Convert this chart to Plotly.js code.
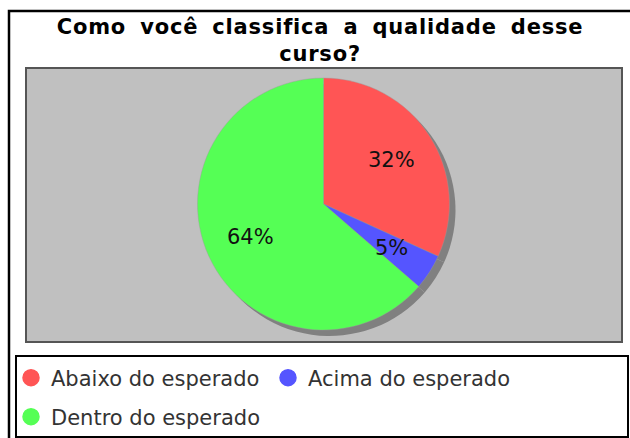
<!DOCTYPE html>
<html>
<head>
<meta charset="utf-8">
<script src="https://cdn.plot.ly/plotly-3.0.1.min.js"></script>
<style>
html,body{margin:0;padding:0;background:#fff;}
#chart{width:630px;height:438px;}
.gtitle{letter-spacing:0.8px;word-spacing:6px;}
</style>
</head>
<body>
<div id="chart"></div>
<script>
// ---- data ----
const labels = ['Abaixo do esperado', 'Acima do esperado', 'Dentro do esperado'];
const values = [7, 1, 14];
const colors = ['#FF5555', '#5555FF', '#55FF55'];
const titleText = 'Como você classifica a qualidade desse<br>curso?';

// ---- layout constants (px) ----
const W = 630, H = 438;
const cx = 323.5, cy = 204, r = 126, shadowOff = 6;
const px = x => x / W;
const py = y => 1 - y / H;

const dom = (ox, oy) => ({
  x: [px(cx - r + ox), px(cx + r + ox)],
  y: [py(cy + r + oy), py(cy - r + oy)]
});

const total = values.reduce((a, b) => a + b, 0);

const shadow = {
  type: 'pie', values: values, labels: labels, sort: false, direction: 'clockwise', rotation: 0,
  domain: dom(shadowOff, shadowOff),
  marker: {colors: values.map(() => '#808080'), line: {width: 0}},
  textinfo: 'none', hoverinfo: 'skip', showlegend: false
};
const pie = {
  type: 'pie', values: values, labels: labels, sort: false, direction: 'clockwise', rotation: 0,
  domain: dom(0, 0),
  marker: {colors: colors, line: {color: '#9a9a9a', width: 0.4}},
  textinfo: 'none', showlegend: false
};

// legend-only traces with circle symbols
const legendTraces = labels.map((l, i) => ({
  type: 'scatter', mode: 'markers', x: [null], y: [null], name: l,
  marker: {color: colors[i], size: 16, symbol: 'circle', line: {color: colors[i], width: 1.5}},
  legend: i < 2 ? 'legend' : 'legend2', hoverinfo: 'skip'
}));

// slice labels at 0.64 r on each slice's mid-angle
const annotations = [];
let cum = 0;
values.forEach((v, i) => {
  const mid = (cum + v / 2) / total * 2 * Math.PI;
  cum += v;
  const x = cx + 0.64 * r * Math.sin(mid);
  const y = cy - 0.64 * r * Math.cos(mid);
  annotations.push({
    xref: 'paper', yref: 'paper', x: px(x), y: py(y), xanchor: 'center', yanchor: 'middle',
    text: Math.round(v / total * 100) + '%', showarrow: false,
    font: {family: 'DejaVu Sans', size: 21, color: '#111'}
  });
});

const legendFont = {family: 'DejaVu Sans', size: 21, color: '#333'};

const layout = {
  width: W, height: H,
  margin: {l: 0, r: 0, t: 0, b: 0},
  paper_bgcolor: '#fff', plot_bgcolor: 'rgba(0,0,0,0)',
  title: {
    text: titleText, x: 0.508, xanchor: 'center', xref: 'paper',
    y: 1 - 34 / H, yref: 'container', yanchor: 'top',
    font: {family: 'DejaVu Sans', size: 21, weight: 'bold', color: '#000'}
  },
  xaxis: {visible: false, range: [0, 1]},
  yaxis: {visible: false, range: [0, 1]},
  showlegend: true,
  legend: {
    orientation: 'h', x: px(11), y: py(378), xanchor: 'left', yanchor: 'middle',
    font: legendFont, bgcolor: 'rgba(0,0,0,0)', entrywidth: 212, itemclick: false
  },
  legend2: {
    orientation: 'h', x: px(11), y: py(417), xanchor: 'left', yanchor: 'middle',
    font: legendFont, bgcolor: 'rgba(0,0,0,0)', itemclick: false
  },
  annotations: annotations,
  shapes: [
    {type: 'rect', xref: 'paper', yref: 'paper', layer: 'below',
     x0: px(9), x1: px(640), y0: py(11), y1: py(450),
     line: {color: '#000', width: 2.5}, fillcolor: '#fff'},
    {type: 'rect', xref: 'paper', yref: 'paper', layer: 'below',
     x0: px(26), x1: px(622), y0: py(68), y1: py(342),
     line: {color: '#555', width: 2}, fillcolor: '#C0C0C0'},
    {type: 'rect', xref: 'paper', yref: 'paper', layer: 'below',
     x0: px(16), x1: px(628), y0: py(356), y1: py(437),
     line: {color: '#000', width: 2}, fillcolor: '#fff'}
  ]
};

Plotly.newPlot('chart', [shadow, pie].concat(legendTraces), layout, {displayModeBar: false, staticPlot: true});
</script>
</body>
</html>
